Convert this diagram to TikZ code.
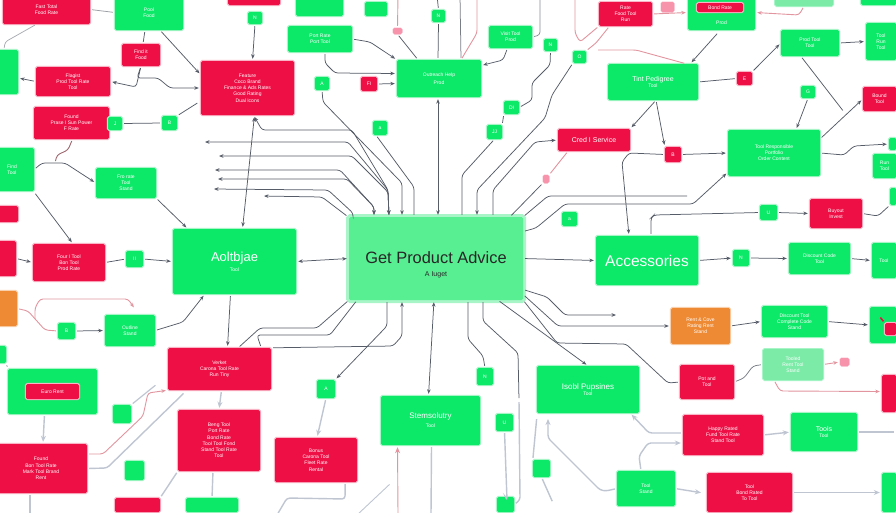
\documentclass[tikz,border=0pt]{standalone}
\usepackage{fontspec}
\setmainfont{Liberation Sans}
\usetikzlibrary{arrows.meta}
\definecolor{gfill}{HTML}{0CE868}
\definecolor{gglow}{HTML}{A8F5C8}
\definecolor{rfill}{HTML}{EE0F45}
\definecolor{rglow}{HTML}{F9B5C6}
\definecolor{ofill}{HTML}{EE8A33}
\definecolor{hubfill}{HTML}{58EE92}
\definecolor{palefill}{HTML}{7CEBA8}
\definecolor{cgray}{HTML}{565C68}
\definecolor{cfade}{HTML}{BFC6D2}
\definecolor{cpink}{HTML}{E2959F}
\newcommand{\bxn}[7][gbox]{%
  \pgfmathsetmacro{\bw}{#5-#3}\pgfmathsetmacro{\bh}{#6-#4}%
  \pgfmathsetmacro{\bcx}{(#3+#5)/2}\pgfmathsetmacro{\bcy}{(#4+#6)/2}%
  \node[#1,minimum width=\bw pt,minimum height=\bh pt] (#2) at (\bcx,\bcy) {#7};}
\newcommand{\fe}[3]{\coordinate (#1) at (#2,#3);}
\tikzset{
  basebox/.style={rectangle,rounded corners=1.5pt,inner sep=0pt,align=center,text=white,
    font=\fontsize{5}{6.2}\selectfont},
  gbox/.style={basebox,fill=gfill,preaction={draw=gglow,line width=2.2pt}},
  rbox/.style={basebox,fill=rfill,preaction={draw=rglow,line width=2.2pt}},
  obox/.style={basebox,fill=ofill,preaction={draw=ofill!40,line width=2.2pt}},
  pbox/.style={basebox,fill=palefill,preaction={draw=gglow,line width=2pt}},
  pinkbox/.style={basebox,fill=rfill!45,preaction={draw=rglow,line width=1pt}},
  hubbox/.style={basebox,fill=hubfill,text=black!85,preaction={draw=gglow,line width=6pt}},
  tip/.style={Stealth[length=4.5pt,width=3.6pt]},
  conn/.style={draw=cgray,line width=0.75pt,rounded corners=3pt,shorten >=2pt,shorten <=2pt,
    -{Stealth[length=4.5pt,width=3.6pt]}},
  plain/.style={conn,-},
  back/.style={conn,{Stealth[length=4.5pt,width=3.6pt]}-},
  twoway/.style={conn,{Stealth[length=4.5pt,width=3.6pt]}-{Stealth[length=4.5pt,width=3.6pt]}},
  fade/.style={conn,draw=cfade,line width=1.4pt,-{Stealth[length=6pt,width=5pt]}},
  fadeplain/.style={fade,-},
  fadeback/.style={fade,{Stealth[length=6pt,width=5pt]}-},
  pink/.style={conn,draw=cpink,line width=0.9pt},
  pinkplain/.style={pink,-},
  pinkback/.style={pink,{Stealth[length=6pt,width=5pt]}-},
}
\begin{document}
\begin{tikzpicture}[x=1pt,y=-1pt]
\useasboundingbox (0,0) rectangle (896,512);
\clip (0,0) rectangle (896,512);
\fill[white] (0,0) rectangle (896,512);
% left part
\bxn[rbox]{ra}{3}{-5}{90}{24}{Fast Total\\Food Rate}
\bxn{ga}{115}{-5}{183}{30}{Pool\\Food}
\bxn[rbox]{rb}{122}{44}{160}{66}{Find it\\Food}
\bxn{sa}{248}{12}{262}{24}{N}
\bxn[rbox]{rc}{228}{-5}{280}{5}{}
\bxn{gb}{-10}{50}{18}{94}{}
\bxn[rbox]{rd}{36}{67}{110}{96}{Flagist\\Prod Tool Rate\\Tool}
\bxn[rbox]{bigr}{201}{61}{294}{115}{Feature\\Coco Brand\\Finance \& Ads Rates\\Good Rating\\Dual Icons}
\bxn[rbox]{rf}{34}{107}{109}{139}{Found\\Prase I Sun Power\\F Rate}
\bxn{sb}{108}{117}{122}{130}{J}
\bxn{sc}{162}{116}{177}{130}{B}
\bxn{gc}{-10}{148}{34}{191}{Find\\Tool}
\bxn{gd}{96}{168}{156}{198}{Fro rate\\Tool\\Stand}
\bxn[rbox]{rg}{-5}{206}{18}{222}{}
\bxn[rbox]{rh}{-5}{241}{16}{276}{}
\bxn[rbox]{ri}{33}{244}{105}{281}{Four I Tool\\Bon Tool\\Prod Rate}
\bxn{sd}{126}{251}{143}{267}{II}
\bxn{anti}{173}{229}{296}{294}{{\fontsize{13}{15}\selectfont Aoltbjae}\\[3pt]Tool}
\bxn[hubbox]{hub}{349}{217}{523}{300}{\rule{0pt}{25pt}{\fontsize{16.4}{19}\selectfont Get Product Advice}\\[7pt]{\fontsize{7}{8}\selectfont A Iuget}}
\bxn[obox]{ol}{-5}{291}{17}{326}{}
\bxn{se}{58}{323}{75}{339}{B}
\bxn{ge}{105}{315}{155}{346}{Outline\\Stand}
\bxn[rbox]{rj}{168}{348}{271}{390}{Verket\\Carona Tool Rate\\Run Tiny}
\bxn{sf}{-5}{346}{6}{363}{}
\bxn{gf}{8}{369}{97}{414}{}
\bxn[rbox]{lf}{26}{384}{79}{399}{Euro Rent}
\bxn{sg}{113}{405}{131}{423}{}
\bxn[rbox]{rk}{-5}{444}{87}{493}{Found\\Bon Tool Rate\\Mark Tool Brand\\Rent}
\bxn[rbox]{rl}{178}{410}{260}{471}{Beng Tool\\Port Rate\\Bond Rate\\Tool Tool Fond\\Stand Tool Rate\\Tool}
\bxn{sh}{125}{461}{144}{480}{}
\bxn[rbox]{rm}{275}{438}{357}{482}{Bonus\\Carona Tool\\Fleet Rate\\Rental}
\bxn{si}{317}{380}{335}{398}{A}
\bxn[rbox]{rn}{115}{498}{160}{512}{}
\bxn{gg}{186}{498}{238}{512}{}
% top middle
\bxn{gh}{288}{26}{352}{52}{Port Rate\\Port Tool}
\bxn{gi}{296}{-5}{343}{16}{}
\bxn{sj}{365}{2}{387}{16}{}
\bxn{sk}{315}{77}{329}{90}{A}
\bxn[rbox]{ro}{361}{77}{377}{91}{FI}
\bxn{gj}{397}{60}{481}{97}{Outreach Help\\[2pt]Prod}
\bxn{sl}{432}{10}{445}{22}{N}
\bxn[pinkbox]{pa}{393}{28}{402}{34}{}
\bxn{gk}{489}{26}{532}{48}{Visit Tool\\Prod}
\bxn{sm}{544}{39}{557}{51}{N}
\bxn{sn}{504}{101}{519}{114}{DI}
\bxn{so}{487}{125}{502}{139}{JJ}
\bxn{sp}{573}{51}{586}{63}{O}
\bxn{sq}{373}{121}{387}{135}{a}
\bxn[rbox]{rp}{558}{129}{630}{151}{{\fontsize{7}{8}\selectfont Cred I Service}}
\bxn[pinkbox]{pb}{543}{175}{549}{183}{}
\bxn{sr}{562}{212}{577}{226}{a}
% right part
\bxn[rbox]{rq}{599}{2}{652}{26}{Rate\\Food Tool\\Run}
\bxn[pinkbox]{pc}{661}{2}{674}{12}{}
\bxn{gl}{688}{-5}{755}{30}{\\[17pt]Prod}
\bxn[rbox]{lg}{697}{3}{743}{12}{Bond Rate}
\bxn[pbox]{pd}{775}{-5}{833}{6}{}
\bxn{gm}{861}{-5}{896}{5}{}
\bxn{gn}{781}{30}{839}{56}{Prod Tool\\Tool}
\bxn{go}{866}{23}{896}{60}{Tool\\Run\\Tool}
\bxn{gp}{608}{64}{698}{100}{{\fontsize{7}{8}\selectfont Tint Pedigree}\\Tool}
\bxn[rbox]{rr}{737}{72}{752}{85}{E}
\bxn{ss}{801}{86}{815}{98}{G}
\bxn[rbox]{rs}{863}{87}{896}{111}{Bound\\Tool}
\bxn[rbox]{rt}{665}{147}{681}{162}{B}
\bxn{gq}{728}{130}{820}{176}{Tool Responsible\\Portfolio\\Order Content}
\bxn{gr}{873}{154}{896}{178}{Run\\Tool}
\bxn{st}{889}{138}{896}{150}{}
\bxn[rbox]{ru}{810}{199}{862}{228}{Buyout\\Invest}
\bxn{su}{760}{205}{777}{220}{U}
\bxn{sv}{890}{188}{896}{205}{}
\bxn{acc}{596}{236}{698}{285}{{\fontsize{15.5}{18}\selectfont Accessories}}
\bxn{sw}{733}{250}{749}{266}{N}
\bxn{gsx}{789}{243}{850}{274}{Discount Code\\Tool}
\bxn{gt}{872}{243}{896}{278}{Tool}
\bxn[obox]{oa}{671}{308}{730}{344}{Rent \& Cove\\Rating Rent\\Stand}
\bxn{gu}{762}{306}{827}{337}{Discount Tool\\Complete Code\\Stand}
\bxn{gv}{870}{307}{896}{343}{}
\bxn[rbox]{cart}{885}{323}{896}{335}{}
\bxn[pbox]{ph}{763}{349}{823}{380}{Tooled\\Rent Tool\\Stand}
\bxn[pinkbox]{pe}{840}{358}{849}{366}{}
\bxn[rbox]{rw}{680}{365}{734}{399}{Pot and\\Tool}
\bxn[rbox]{rx}{882}{375}{896}{412}{}
\bxn{gw}{537}{366}{639}{413}{{\fontsize{8}{10}\selectfont Isobl Pupsines}\\Tool}
\bxn[rbox]{ry}{683}{415}{763}{455}{Happy Rated\\Fund Tool Rate\\Stand Tool}
\bxn{gx}{791}{413}{857}{451}{{\fontsize{7}{8}\selectfont Tools}\\Tool}
\bxn{gy}{617}{471}{675}{506}{Tool\\Stand}
\bxn[rbox]{rz}{707}{473}{792}{512}{Tool\\Bond Rated\\To Tool}
\bxn{gz}{882}{473}{896}{512}{}
\bxn{ha}{381}{396}{480}{445}{{\fontsize{8}{10}\selectfont Stemsolutry}\\[3pt]Tool}
\bxn{sx}{477}{368}{493}{385}{N}
\bxn{sy}{496}{414}{513}{431}{U}
\bxn{sz}{533}{460}{550}{477}{}
\bxn{ta}{497}{497}{514}{512}{}
% free ends
\fe{f1}{203}{142}\fe{f2}{217}{156}\fe{f3}{213}{170}\fe{f4}{216}{179}\fe{f5}{212}{189}\fe{f6}{262}{196}
\fe{f7}{460}{-5}\fe{f8}{477}{-5}\fe{f9}{398}{-5}\fe{f10}{540}{-5}\fe{f11}{575}{-5}
\fe{f12}{689}{196}\fe{f13}{618}{315}\fe{f14}{431}{515}\fe{f15}{398}{515}\fe{f16}{357}{515}
\fe{f17}{277}{515}\fe{f18}{30}{515}\fe{f19}{896}{432}\fe{f20}{596}{50}
\fe{f21}{437}{-5}\fe{f22}{844}{112}
% upper-left connectors
\draw[plain,draw=cgray!60] (ra.east) -- (ga.west);
\draw[plain,draw=cgray!50] ([xshift=-10]ra.south) -- (5,42) -- (gb.north);
\draw[plain] ([xshift=-4]ga.south) -- ([xshift=2]rb.north);
\draw[conn] ([xshift=11]ga.south) -- ([yshift=-14]bigr.north west);
\draw[conn] (sa.south) -- ([xshift=5]bigr.north);
\draw[conn] (rb.south) -- (136,87) -- (rd.east);
\draw[conn] (rb.south) -- (137,78) -- (158,78) -- (170,88) -- (bigr.west);
\draw[conn] (rd.west) -- ([yshift=-6]gb.east);
\draw[plain] (sb.east) -- (sc.west);
\draw[plain] (sc.north east) -- (199,102);
\draw[twoway] ([xshift=7]bigr.south) -- ([xshift=8]anti.north);
\draw[back] ([xshift=6]bigr.south) -- (262,130) -- (352,130) -- (388,190) -- ([xshift=-47]hub.north);
\draw[twoway] (f1) -- (348,142) -- (388,190) -- ([xshift=-47]hub.north);
\draw[twoway] (f2) -- (352,156) -- (388,192) -- ([xshift=-47]hub.north);
\draw[twoway] (f3) -- (340,170) -- (374,207) -- ([xshift=-62]hub.north);
\draw[twoway] (f4) -- (347,179) -- (374,207) -- ([xshift=-62]hub.north);
\draw[back] (f5) -- (328,190) -- (353,213) -- ([xshift=-83]hub.north);
\draw[back] (f6) -- (322,197) -- ([xshift=-88]hub.north);
\draw[conn] (sk.south) -- (323,102) -- (402,183) -- ([xshift=-34]hub.north);
\draw[plain] ([xshift=-4]sq.south) -- (414,187) -- ([xshift=-22]hub.north);
\draw[twoway] ([xshift=2]hub.north) -- ([xshift=-1]gj.south);
\draw[plain] ([xshift=26]hub.north) -- (462,175) -- (so.south);
\draw[plain] (so.north east) -- (sn.south west);
\draw[back] ([xshift=41]hub.north) -- (477,190) -- (545,118) -- (552,95) -- (sp.south west);
\draw[conn] ([xshift=57]hub.north) -- (493,190) -- (535,142) -- (rp.west);
\draw[plain] ([xshift=74]hub.north) -- (pb.south west);
\draw[pinkplain] (pb.north east) -- ([xshift=-26]rp.south);
\draw[conn,-] (hub.north east) -- (548,196) -- (f12);
\draw[conn] ([yshift=27]hub.east) -- (536,228) -- (565,204) -- (693,204) -- ([yshift=4]gq.south west);
% top
\draw[conn] ([xshift=-3]gk.south) -- (503,60) -- ([yshift=13]gj.east);
\draw[plain,draw=cgray!80] ([xshift=22]gj.north) -- (f7);
\draw[pinkplain] (f8) -- (477,33) -- ([xshift=22]gj.north);
\draw[conn,-] (sl.south) -- ([xshift=-1]gj.north);
\draw[plain] (sl.north) -- (f21);
\draw[pinkplain] (f9) -- (pa.north);
\draw[plain] (pa.south) -- ([xshift=-21]gj.north);
\draw[conn] (gh.east) -- (370,42) -- (gj.north west);
\draw[conn] ([xshift=5]gh.south) -- (325,63) -- (335,73) -- ([yshift=5]gj.west);
\draw[conn] (ro.east) -- ([yshift=-5]gj.west);
\draw[plain,draw=cgray!70] (f10) -- (540,35) -- (gk.east);
\draw[plain] (sm.south) -- (550,65) -- (532,83) -- (532,100) -- (sn.east);
\draw[pinkplain] (f11) -- (575,33) -- (580,42) -- (rq.south west);
\draw[pinkplain] (sp.north east) -- (596,43) -- ([xshift=-16]rq.south);
\draw[pinkplain] (f20) -- (636,50) -- ([xshift=-12]gp.north east);
% right
\draw[pink] (rq.east) -- (gl.west);
\draw[pink] (pd.south) -- (799,15) -- (gl.east);
\draw[conn] ([xshift=-3,yshift=-2]gl.south) -- ([xshift=-8]gp.north east);
\draw[plain] (gp.east) -- (rr.west);
\draw[conn] (rr.north east) -- (gn.west);
\draw[conn] (gn.east) -- (go.west);
\draw[plain] ([xshift=20]gn.south west) -- (f22);
\draw[conn] ([yshift=-9]gq.north east) -- (rs.west);
\draw[conn] (ss.south) -- ([xshift=22]gq.north);
\draw[conn] ([xshift=3]gp.south) -- (rp.north east);
\draw[conn] ([xshift=3]gp.south) -- (rt.north west);
\draw[conn] (rt.west) -- (629,153) -- (622,162) -- ([xshift=-18]acc.north);
\draw[conn] (rt.east) -- (gq.west);
\draw[conn] (gq.east) -- (844,155) -- (854,146) -- (st.west);
\draw[plain] ([xshift=4]acc.north) -- (651,218) -- (654,215) -- (su.west);
\draw[conn] (su.east) -- (ru.west);
\draw[plain] (ru.east) -- (878,216) -- (sv.south west);
\draw[conn] (acc.east) -- (sw.west);
\draw[conn] (sw.east) -- (gsx.west);
\draw[conn] (gsx.east) -- (gt.west);
\draw[conn] (hub.east) -- (acc.west);
\draw[twoway] (hub.west) -- (anti.east);
% hub south-east
\draw[conn] ([yshift=-31]hub.east) -- (547,297) -- (565,315) -- (f13);
\draw[conn] ([yshift=-36]hub.east) -- (558,326) -- (oa.west);
\draw[plain] (hub.south east) -- (557,343) -- (626,344) -- (668,383) -- (rw.west);
\draw[conn] ([xshift=62]hub.south) -- (gw.north);
\draw[plain] ([xshift=47]hub.south) -- (483,321) -- (518,353) -- (519,400);
\draw[fadeplain] (519,400) -- (520,500) -- (ta.east);
\draw[plain] ([xshift=32]hub.south) -- (468,339) -- (483,356) -- (sx.north);
\draw[twoway] ([xshift=-2]hub.south) -- ([xshift=-2]ha.north);
\draw[back] ([xshift=-34]hub.south) -- (402,336) -- (393,346) -- (rj.north east);
\draw[conn] ([xshift=-49]hub.south) -- (387,326) -- (si.north east);
\draw[plain] ([xshift=-79]hub.south) -- (330,335) -- (257,335) -- ([xshift=-10]rj.north east);
\draw[plain] (hub.south west) -- (317,328) -- (260,328) -- ([xshift=-33]rj.north east);
% bottom
\draw[fadeplain] ([xshift=1]ha.south) -- (f14);
\draw[pinkback] ([xshift=-33]ha.south) -- (f15);
\draw[pinkplain,draw=cfade] (391,483) -- (f16);
\draw[fadeplain] ([xshift=-12]rm.south east) -- (345,499) -- (287,498) -- (f17);
\draw[fade] (si.south) -- ([xshift=1]rm.north);
\draw[fadeplain] (sy.south) -- (507,500) -- (ta.north);
\draw[fadeplain] ([yshift=-4]gw.south west) -- (sz.north west);
\draw[fadeplain] (sz.south) -- (553,503);
\draw[fadeback] (548,417) -- (548,438) -- (600,490) -- (606,491) -- (gy.west);
\draw[fade] (gy.east) -- (703,493);
\draw[fade] (rz.east) -- (gz.west);
\draw[fade] ([xshift=-5]gy.north) -- (639,456) -- (648,443) -- ([yshift=-8]ry.west);
\draw[fadeback] ([xshift=-9]gw.south east) -- (649,433) -- ([yshift=2]ry.west);
\draw[fade] (ry.east) -- (gx.west);
\draw[fadeplain] (gx.east) -- (f19);
\draw[conn] (oa.east) -- (gu.west);
\draw[conn] (gu.east) -- (gv.west);
\draw[plain,draw=cgray!80] (rw.east) -- (744,378) -- (753,366) -- (ph.west);
\draw[pink] (ph.east) -- (pe.west);
\draw[pink] ([xshift=-19]ph.south) -- (780,391) -- ([yshift=2]rx.west);
\draw[pink,-,draw=rfill,line width=1.6pt] (cart.north west) -- (879,316);
% lower-left
\draw[conn] (rh.east) -- (ri.west);
\draw[plain] (ri.east) -- (sd.west);
\draw[conn] (sd.east) -- (anti.west);
\draw[conn] ([xshift=-4]anti.south) -- ([xshift=8]rj.north);
\draw[conn] (ge.east) -- (183,322) -- ([xshift=32]anti.south west);
\draw[pinkplain] (ol.east) -- (28,311) -- (45,330) -- (se.west);
\draw[pink] (35,321) -- (35,308) -- (40,299) -- (128,299) -- (135,309);
\draw[conn] (se.east) -- (ge.west);
\draw[fade] ([xshift=2]rj.south) -- (rl.north);
\draw[plain,draw=cgray!60] (sf.south east) -- (gf.north west);
\draw[fade] ([xshift=-8]gf.south) -- ([xshift=2]rk.north);
\draw[pink] (87,454) -- (103,454) -- (143,416) -- (148,393) -- (rj.south west);
\draw[plain,draw=cfade,line width=1.2pt] (sg.north east) -- (157,384);
\draw[fadeplain] (rk.east) -- (107,468) -- (185,392);
\draw[fadeplain] (213,471) -- (gg.north);
\draw[fadeplain] (rl.south west) -- (rn.north east);
\draw[fadeplain] ([xshift=-11]rk.south) -- (f18);
% mid-left
\draw[conn] (gc.east) -- (42,163) -- (65,163) -- (gd.west);
\draw[pinkplain,draw=cpink!70!black] ([xshift=1]rf.south) -- (68,150) -- (57,155) -- (55,163);
\draw[conn] ([yshift=-1]gc.south east) -- ([xshift=4]ri.north);
\draw[conn] (gd.south east) -- ([xshift=15]anti.north west);
\end{tikzpicture}
\end{document}
